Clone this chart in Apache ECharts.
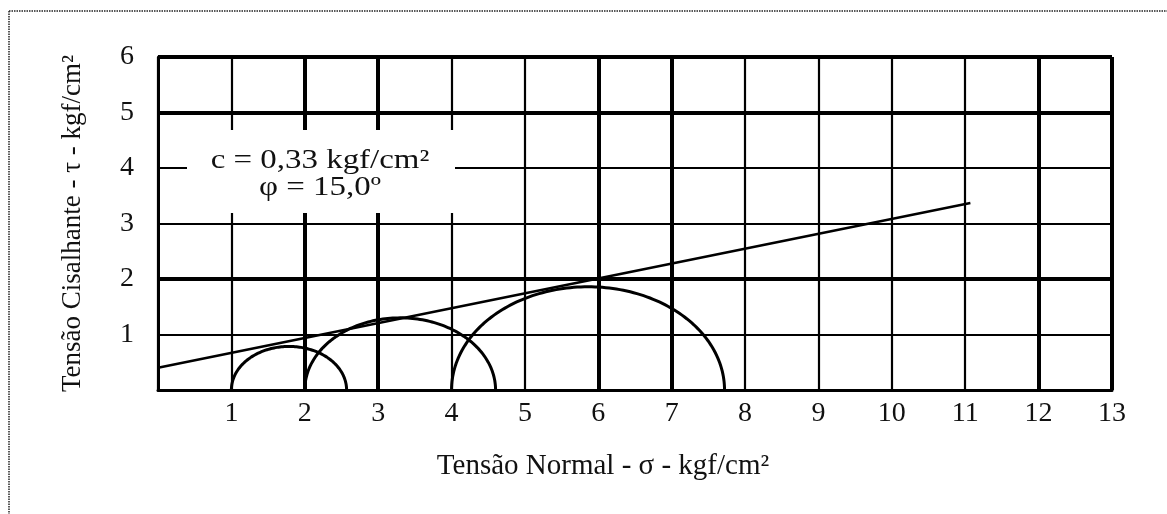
<!DOCTYPE html>
<html>
<head>
<meta charset="utf-8">
<script src="https://cdn.jsdelivr.net/npm/echarts@6/dist/echarts.min.js"></script>
<style>html,body{margin:0;padding:0;background:#fff}#c{width:1167px;height:514px}</style>
</head>
<body>
<div id="c"></div>
<script>
// Mohr circles: minor and major principal stresses (kgf/cm²)
const sigma3 = [1.0, 2.0, 4.0];
const sigma1 = [2.57, 4.6, 7.72];
// Failure envelope endpoints [σ, τ]
const envelopeSigma = [0, 11.07];
const envelopeTau = [0.40, 3.37];
const xTicks = [0,1,2,3,4,5,6,7,8,9,10,11,12,13];
const yTicks = [0,1,2,3,4,5,6];
const annotation = ['c = 0,33 kgf/cm²', 'φ = 15,0º'];
const xTitle = 'Tensão Normal - σ - kgf/cm²';
const yTitle = 'Tensão Cisalhante - τ - kgf/cm²';

const FONT = '"Liberation Serif", "DejaVu Serif", serif';
const chart = echarts.init(document.getElementById('c'));

const circles = sigma3.map((s3, i) => [s3, sigma1[i]]);
const envelope = envelopeSigma.map((s, i) => [s, envelopeTau[i]]);

chart.setOption({
  animation: false,
  backgroundColor: '#fff',
  grid: { left: 158, right: 55, top: 57, bottom: 124 },
  xAxis: {
    type: 'value', min: xTicks[0], max: xTicks[xTicks.length - 1], interval: 1,
    name: xTitle, nameLocation: 'middle', nameGap: 62,
    nameTextStyle: { fontFamily: FONT, fontSize: 29, color: '#111', padding: [0, 64, 0, 0] },
    axisLine: { show: true, lineStyle: { color: '#000', width: 3 } },
    axisTick: { show: false },
    axisLabel: { margin: 10, fontFamily: FONT, fontSize: 28, color: '#111',
      formatter: v => (v === 0 ? '' : String(v)) },
    splitLine: { show: true, lineStyle: { color: '#000', width: 2.2 } }
  },
  yAxis: {
    type: 'value', min: yTicks[0], max: yTicks[yTicks.length - 1], interval: 1,
    name: yTitle, nameLocation: 'middle', nameGap: 72,
    nameTextStyle: { fontFamily: FONT, fontSize: 27, color: '#111' },
    axisLine: { show: true, lineStyle: { color: '#000', width: 3 } },
    axisTick: { show: false },
    axisLabel: { margin: 24, fontFamily: FONT, fontSize: 28, color: '#111',
      formatter: v => (v === 0 ? '' : String(v)) },
    splitLine: { show: true, lineStyle: { color: '#000', width: 2.2 } }
  },
  series: [
    {
      type: 'line', data: [], silent: true,
      markLine: {
        silent: true, symbol: 'none', label: { show: false },
        lineStyle: { color: '#000', width: 4, type: 'solid' },
        data: [{ xAxis: 2 }, { xAxis: 3 }, { xAxis: 6 }, { xAxis: 7 }, { xAxis: 12 }, { xAxis: 13 },
               { yAxis: 6 }, { yAxis: 5 }, { yAxis: 2 }]
      },
      z: 1
    },
    {
      type: 'custom',
      data: circles,
      renderItem: function (params, api) {
        const s3 = api.value(0), s1 = api.value(1);
        const c = (s1 + s3) / 2, r = (s1 - s3) / 2;
        const pts = [];
        for (let k = 0; k <= 120; k++) {
          const t = Math.PI * (1 - k / 120);
          pts.push(api.coord([c + r * Math.cos(t), r * Math.sin(t)]));
        }
        return { type: 'polyline', shape: { points: pts },
          style: { stroke: '#000', lineWidth: 3, fill: null } };
      },
      z: 5
    },
    {
      type: 'line', data: envelope, symbol: 'none',
      lineStyle: { color: '#000', width: 2.5 }, z: 6
    }
  ],
  graphic: [
    { type: 'rect', z: 100, shape: { x: 187, y: 130, width: 268, height: 83 },
      style: { fill: '#fff' } },
    { type: 'text', z: 101, x: 320, y: 161, scaleX: 1.22,
      style: { text: annotation[0], font: '27px ' + FONT, fill: '#111', align: 'center', verticalAlign: 'middle' } },
    { type: 'text', z: 101, x: 320, y: 188, scaleX: 1.22,
      style: { text: annotation[1], font: '27px ' + FONT, fill: '#111', align: 'center', verticalAlign: 'middle' } },
    { type: 'line', z: 100, shape: { x1: 9, y1: 11, x2: 1167, y2: 11 },
      style: { stroke: '#222', lineWidth: 1.5, lineDash: [1.5, 1] } },
    { type: 'line', z: 100, shape: { x1: 9, y1: 11, x2: 9, y2: 514 },
      style: { stroke: '#222', lineWidth: 1.5, lineDash: [1.5, 1] } }
  ]
});
</script>
</body>
</html>
